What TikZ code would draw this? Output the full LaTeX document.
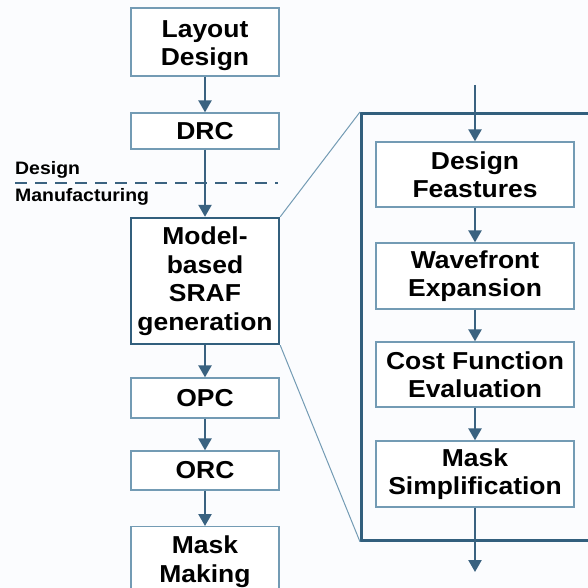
\documentclass[tikz,border=0pt]{standalone}
\usepackage{fontspec}
\setmainfont[FakeStretch=1.08]{Liberation Sans}
\usetikzlibrary{arrows.meta}
\definecolor{arrowc}{RGB}{58,98,128}
\definecolor{boxc}{RGB}{115,155,180}
\definecolor{panelc}{RGB}{50,95,125}
\definecolor{bgc}{RGB}{251,252,254}
\tikzset{
  flowbox/.style={draw=boxc, line width=1.3pt, fill=white, inner sep=0pt, align=center,
    font=\fontsize{24.5}{28.5}\selectfont\bfseries},
  modelbox/.style={flowbox, draw=panelc, line width=2.4pt},
  panelbox/.style={draw=panelc, line width=2.8pt, inner sep=0pt},
  flowarrow/.style={draw=arrowc, line width=2.4pt, -{Triangle[length=12pt,width=13pt]}},
  zoomline/.style={draw=boxc, line width=1pt},
  sidelabel/.style={font=\fontsize{18}{20}\selectfont\bfseries, anchor=base west, inner sep=0pt},
}
\begin{document}
\begin{tikzpicture}[x=1pt,y=-1pt]
\useasboundingbox (0,0) rectangle (588,588);
\clip (0,0) rectangle (588,588);
\fill[bgc] (0,0) rectangle (588,588);
% left column
\node[flowbox, minimum width=148pt, minimum height=68pt] (ld) at (205,42) {\raisebox{-4pt}[\height][\depth]{\begin{tabular}{@{}c@{}}Layout\\Design\end{tabular}}};
\node[flowbox, minimum width=148pt, minimum height=36pt] (drc) at (205,131) {DRC};
\node[modelbox, minimum width=148pt, minimum height=126pt] (model) at (205,281) {Model-\\based\\SRAF\\generation};
\node[flowbox, minimum width=148pt, minimum height=40pt] (opc) at (205,398) {OPC};
\node[flowbox, minimum width=148pt, minimum height=39pt] (orc) at (205,470.5) {ORC};
\node[flowbox, minimum width=148pt, minimum height=70pt, anchor=north] (mm) at (205,526) {Mask\\Making};
% design / manufacturing divider
\coordinate (dl) at (15,183);
\coordinate (dr) at (278,183);
\draw[draw=arrowc, line width=2.4pt, dash pattern=on 12pt off 8pt] (dl) -- (dr);
\node[sidelabel] (dlab) at (15,175) {Design};
\node[sidelabel] (mlab) at (15,201) {Manufacturing};
% panel
\node[panelbox, minimum width=250pt, minimum height=427pt, anchor=north west] (panel) at (360,112) {};
\draw[zoomline] (model.north east) -- (panel.north west);
\draw[zoomline] (model.south east) -- (panel.south west);
% right column
\node[flowbox, minimum width=198pt, minimum height=65pt] (df) at (475,174.5) {Design\\Feastures};
\node[flowbox, minimum width=198pt, minimum height=66pt] (wf) at (475,276) {Wavefront\\Expansion};
\node[flowbox, minimum width=198pt, minimum height=65pt] (cf) at (475,374.5) {Cost Function\\Evaluation};
\node[flowbox, minimum width=198pt, minimum height=66pt] (ms) at (475,474) {Mask\\Simplification};
\coordinate (tin) at (475,85);
\coordinate (bout) at (475,572);
% arrows
\draw[flowarrow] (ld) -- (drc);
\draw[flowarrow] (drc) -- (model);
\draw[flowarrow] (model) -- (opc);
\draw[flowarrow] (opc) -- (orc);
\draw[flowarrow] (orc) -- (mm);
\draw[flowarrow] (tin) -- (df);
\draw[flowarrow] (df) -- (wf);
\draw[flowarrow] (wf) -- (cf);
\draw[flowarrow] (cf) -- (ms);
\draw[flowarrow] (ms) -- (bout);
\end{tikzpicture}
\end{document}
